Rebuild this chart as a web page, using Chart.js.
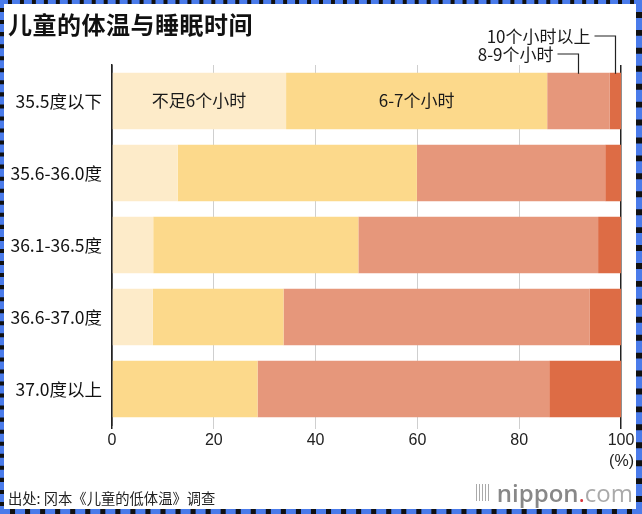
<!DOCTYPE html>
<html lang="zh">

<head>
    <meta charset="UTF-8">
    <title>儿童的体温与睡眠时间</title>

    <style>
        body {
            margin: 0;
            background: #fff;
            font-family: "Noto Sans CJK SC", sans-serif;
        }

        .wrap {
            position: relative;
            width: 642px;
            height: 514px;
            overflow: hidden;
        }

        .frame {
            position: absolute;
            left: 0;
            top: 0;
            width: 642px;
            height: 514px;
            box-sizing: border-box;
            border-style: dashed;
            border-color: #4a7bea;
            border-width: 4px 6px 5px 4px;
            background: transparent;
            pointer-events: none;
        }

        .frame-bg {
            position: absolute;
            left: 0;
            top: 0;
            width: 642px;
            height: 514px;
            background: #111;
        }

        .inner {
            position: absolute;
            left: 4px;
            top: 4px;
            width: 632px;
            height: 505px;
            background: #fff;
        }

        #chart {
            position: absolute;
            left: 0;
            top: 0;
        }

        .title {
            position: absolute;
            left: 8px;
            top: 6px;
            font-size: 24px;
            font-weight: bold;
            color: #111;
            letter-spacing: 0.5px;
        }

        .unit {
            position: absolute;
            right: 8px;
            top: 452px;
            font-family: "Liberation Sans", sans-serif;
            font-size: 16px;
            color: #222;
        }

        .source {
            position: absolute;
            left: 8px;
            top: 487px;
            font-size: 14.3px;
            color: #222;
        }

        .logo {
            position: absolute;
            right: 9px;
            top: 476px;
            font-family: "Open Sans", sans-serif;
            font-size: 24px;
            color: #8a8a8a;
            display: flex;
            align-items: center;
        }

        .logo .bars {
            display: inline-block;
            width: 15px;
            height: 17px;
            margin-right: 6px;
            background: repeating-linear-gradient(90deg, #aaa 0 1.5px, transparent 1.5px 3px);
        }

        .logo b {
            font-weight: 600;
            color: #888;
        }

        .logo .dot {
            color: #d9363e;
        }

        .logo .com {
            color: #aaa;
        }
    </style>
</head>

<body>
    <div class="wrap">
        <div class="frame-bg"></div>
        <div class="inner"></div>
        <div class="frame"></div>
        <canvas id="chart" width="642" height="514"></canvas>
        <div class="title">儿童的体温与睡眠时间</div>
        <div class="unit">(%)</div>
        <div class="source">出处: 冈本《儿童的低体温》调查</div>
        <div class="logo"><span class="bars"></span><b>nippon</b><span class="dot">.</span><span class="com">com</span></div>
    </div>

    <script src="https://cdn.jsdelivr.net/npm/chart.js@4.4.3/dist/chart.umd.min.js"></script>

    <script>
        // 体温分组
        const groups = ['35.5度以下', '35.6-36.0度', '36.1-36.5度', '36.6-37.0度', '37.0度以上']
        const sleepLabels = ['不足6个小时', '6-7个小时', '8-9个小时', '10个小时以上']

        // 各睡眠时间的比例 (%)
        const under6 = [34.2, 12.9, 8.1, 8.0, 0]
        const h6to7 = [51.3, 47.0, 40.3, 25.7, 28.6]
        const h8to9 = [12.3, 37.0, 47.1, 60.1, 57.3]
        const over10 = [2.2, 3.1, 4.5, 6.2, 14.1]

        const xTicks = [0, 20, 40, 60, 80, 100]

        const colors = ['#fdebc9', '#fcd98b', '#e6977b', '#dd6c45']
        const cjk = '"Noto Sans CJK SC", sans-serif'

        // 第一行的标注: 段内文字 + 引线
        const labelPlugin = {
            id: 'sleepLabels',
            afterDatasetsDraw(chart) {
                const ctx = chart.ctx
                const x = chart.scales.x
                ctx.save()
                ctx.font = '17px ' + cjk
                ctx.fillStyle = '#1a1a1a'
                ctx.textBaseline = 'middle'

                // 段内文字 (第一行前两段)
                let start = 0
                ;[under6, h6to7].forEach((arr, i) => {
                    const bar = chart.getDatasetMeta(i).data[0]
                    const mid = x.getPixelForValue(start + arr[0] / 2)
                    ctx.textAlign = 'center'
                    ctx.fillText(sleepLabels[i], mid, bar.y)
                    start += arr[0]
                })

                // 引线
                const top = chart.getDatasetMeta(0).data[0]
                const barTop = top.y - top.height / 2
                const base3 = under6[0] + h6to7[0]
                const lines = [
                    { text: sleepLabels[2], value: base3 + h8to9[0] / 2, y: 54 },
                    { text: sleepLabels[3], value: base3 + h8to9[0] + over10[0] / 2, y: 36 },
                ]
                ctx.strokeStyle = '#222'
                ctx.lineWidth = 1.2
                lines.forEach(l => {
                    const px = Math.round(x.getPixelForValue(l.value)) + 0.5
                    ctx.beginPath()
                    ctx.moveTo(px - 21, l.y)
                    ctx.lineTo(px, l.y)
                    ctx.lineTo(px, barTop + 1)
                    ctx.stroke()
                    ctx.textAlign = 'right'
                    ctx.fillText(l.text, px - 25, l.y + 1)
                })
                ctx.restore()
            }
        }

        const ctx = document.getElementById('chart').getContext('2d')

        new Chart(ctx, {
            type: 'bar',
            data: {
                labels: groups,
                datasets: [under6, h6to7, h8to9, over10].map((d, i) => ({
                    label: sleepLabels[i],
                    data: d,
                    backgroundColor: colors[i],
                    borderWidth: 0,
                    categoryPercentage: 1,
                    barPercentage: 0.785,
                })),
            },
            options: {
                indexAxis: 'y',
                responsive: false,
                animation: false,
                layout: {
                    padding: { top: 65, right: 21, left: 0, bottom: 0 },
                },
                plugins: {
                    legend: { display: false },
                    tooltip: { enabled: false },
                },
                scales: {
                    x: {
                        stacked: true,
                        min: 0,
                        max: 100,
                        afterBuildTicks: s => { s.ticks = xTicks.map(v => ({ value: v })) },
                        afterFit: s => { s.height = 89 },
                        border: { display: false },
                        grid: {
                            color: c => (c.tick && (c.tick.value === 0 || c.tick.value === 100)) ? '#222' : '#cfcfcf',
                            lineWidth: c => (c.tick && (c.tick.value === 0 || c.tick.value === 100)) ? 1.5 : 1,
                            drawTicks: true,
                            tickLength: 4,
                        },
                        ticks: {
                            color: '#222',
                            padding: 2,
                            font: { family: '"Liberation Sans", sans-serif', size: 16 },
                        },
                    },
                    y: {
                        stacked: true,
                        afterFit: s => { s.width = 112 },
                        border: { display: true, color: '#222', width: 1.5 },
                        grid: { display: false, drawTicks: false },
                        ticks: {
                            color: '#111',
                            padding: 10,
                            font: { family: cjk, size: 17.5 },
                        },
                    },
                },
            },
            plugins: [labelPlugin],
        })
    </script>
</body>

</html>
